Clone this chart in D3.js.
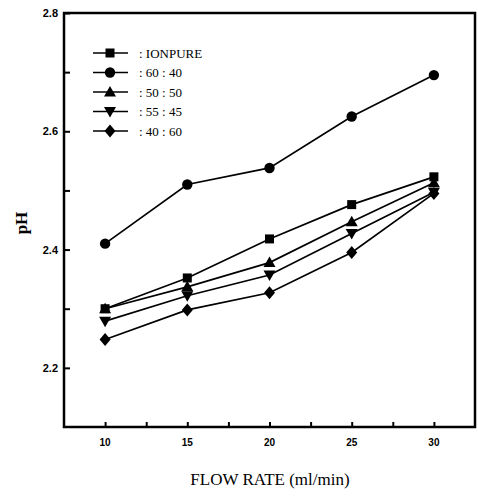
<!DOCTYPE html>
<html>
<head>
<meta charset="utf-8">
<script src="https://cdn.jsdelivr.net/npm/d3@7"></script>
<style>
  body { margin: 0; background: #fff; }
  svg { display: block; }
</style>
</head>
<body>
<div id="container"></div>
<script>
const flowRates = [10, 15, 20, 25, 30];
const seriesNames = [': IONPURE', ': 60 : 40', ': 50 : 50', ': 55 : 45', ': 40 : 60'];
const ionpure = [2.30, 2.352, 2.418, 2.476, 2.523];
const ratio6040 = [2.41, 2.51, 2.538, 2.625, 2.695];
const ratio5050 = [2.30, 2.337, 2.378, 2.447, 2.513];
const ratio5545 = [2.279, 2.322, 2.357, 2.427, 2.497];
const ratio4060 = [2.248, 2.298, 2.327, 2.395, 2.495];
const yTicks = [2.2, 2.4, 2.6, 2.8];
const xTicks = [10, 15, 20, 25, 30];

const seriesValues = [ionpure, ratio6040, ratio5050, ratio5545, ratio4060];
const shapes = ['square', 'circle', 'up', 'down', 'diamond'];

const width = 478, height = 496;
const margin = {left: 64, right: 3, top: 13, bottom: 69};

const svg = d3.select('#container').append('svg')
  .attr('width', width)
  .attr('height', height);

const x = d3.scaleLinear().domain([7.5, 32.5]).range([margin.left, width - margin.right]);
const y = d3.scaleLinear().domain([2.1, 2.8]).range([height - margin.bottom, margin.top]);

// frame
svg.append('rect')
  .attr('x', x(7.5)).attr('y', y(2.8))
  .attr('width', x(32.5) - x(7.5)).attr('height', y(2.1) - y(2.8))
  .attr('fill', 'none').attr('stroke', '#000').attr('stroke-width', 2.5);

// y axis ticks (inward)
const yAxis = svg.append('g').attr('transform', `translate(${x(7.5)},0)`)
  .call(d3.axisRight(y).tickValues(d3.range(2.2, 2.81, 0.1)).tickSize(6).tickFormat(''));
yAxis.select('.domain').remove();
yAxis.selectAll('line').attr('stroke-width', 2);

svg.append('g').selectAll('text').data(yTicks).enter().append('text')
  .attr('x', x(7.5) - 6).attr('y', d => y(d) + 4)
  .attr('text-anchor', 'end')
  .style('font', 'bold 11px "Liberation Sans", Arial, sans-serif')
  .text(d => d.toFixed(1));

// x axis ticks (inward)
const xAxis = svg.append('g').attr('transform', `translate(0,${y(2.1)})`)
  .call(d3.axisTop(x).tickValues(d3.range(10, 30.1, 2.5)).tickSize(5).tickFormat(''));
xAxis.select('.domain').remove();
xAxis.selectAll('line').attr('stroke-width', 2);

svg.append('g').selectAll('text').data(xTicks).enter().append('text')
  .attr('x', d => x(d)).attr('y', y(2.1) + 19)
  .attr('text-anchor', 'middle')
  .style('font', 'bold 10px "Liberation Sans", Arial, sans-serif')
  .text(d => d);

// axis titles
svg.append('text')
  .attr('transform', `translate(27,223) rotate(-90)`)
  .attr('text-anchor', 'middle')
  .style('font', 'bold 17px "Liberation Serif", "Times New Roman", serif')
  .text('pH');

svg.append('text')
  .attr('x', 270).attr('y', 485)
  .attr('text-anchor', 'middle')
  .style('font', '17px "Liberation Serif", "Times New Roman", serif')
  .text('FLOW RATE (ml/min)');

function marker(g, shape) {
  if (shape === 'square') {
    g.append('rect').attr('x', -4.5).attr('y', -4.5).attr('width', 9).attr('height', 9);
  } else if (shape === 'circle') {
    g.append('circle').attr('r', 5.2);
  } else if (shape === 'up') {
    g.append('path').attr('d', 'M0,-6L6,4.5L-6,4.5Z');
  } else if (shape === 'down') {
    g.append('path').attr('d', 'M0,6L6,-4.5L-6,-4.5Z');
  } else {
    g.append('path').attr('d', 'M0,-6.5L5.5,0L0,6.5L-5.5,0Z');
  }
  g.attr('fill', '#000');
}

const line = d3.line().x((d, i) => x(flowRates[i])).y(d => y(d));

seriesValues.forEach((vals, s) => {
  svg.append('path')
    .attr('d', line(vals))
    .attr('fill', 'none').attr('stroke', '#000').attr('stroke-width', 1.7);
  svg.append('g').selectAll('g').data(vals).enter().append('g')
    .attr('transform', (d, i) => `translate(${x(flowRates[i])},${y(d)})`)
    .each(function() { marker(d3.select(this), shapes[s]); });
});

// legend
const legend = svg.append('g');
seriesNames.forEach((name, s) => {
  const ly = 53 + s * 19.5;
  legend.append('line')
    .attr('x1', 93).attr('x2', 128).attr('y1', ly).attr('y2', ly)
    .attr('stroke', '#000').attr('stroke-width', 1.7);
  marker(legend.append('g').attr('transform', `translate(110,${ly})`), shapes[s]);
  legend.append('text')
    .attr('x', 139).attr('y', ly + 4.5)
    .style('font', '13px "Liberation Serif", "Times New Roman", serif')
    .text(name);
});
</script>
</body>
</html>
